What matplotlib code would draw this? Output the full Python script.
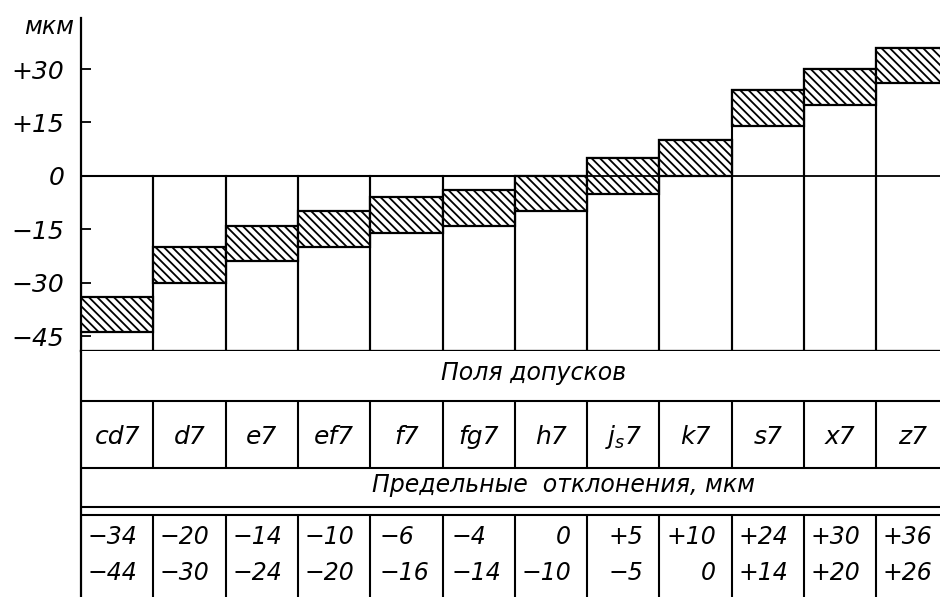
import numpy as np
import matplotlib
matplotlib.use("Agg")
import matplotlib.pyplot as plt

# tolerance fields and their limit deviations (um)
fields = ["cd7", "d7", "e7", "ef7", "f7", "fg7", "h7", "$j_s$7", "k7", "s7", "x7", "z7"]
upper = [-34, -20, -14, -10, -6, -4, 0, 5, 10, 24, 30, 36]
lower = [-44, -30, -24, -20, -16, -14, -10, -5, 0, 14, 20, 26]
ticks = [30, 15, 0, -15, -30, -45]
tick_labels = ["+30", "+15", "0", "\u221215", "\u221230", "\u221245"]
# left-aligned value cells (the rest are right-aligned)
left_cells = ["f7", "fg7"]

plt.rcParams["font.family"] = ["DejaVu Sans"]
plt.rcParams["hatch.linewidth"] = 1.3


def fmt(v):
    if v > 0:
        return f"+{v}"
    if v < 0:
        return f"\u2212{-v}"
    return "0"


W, H = 940, 597
col_px = 72.3        # width of one column in pixels
left_px = 81         # y axis position
base_px = 351        # bottom of the chart / top of the table
x_max = (W - left_px) / col_px
y_lo, y_hi = -49.2, 49.4

fig = plt.figure(figsize=(W / 100, H / 100), dpi=100)
ax = fig.add_axes([left_px / W, (H - base_px) / H, (W - left_px) / W, base_px / H])

x = np.arange(len(fields))
up = np.array(upper)
lo = np.array(lower)
col_top = np.maximum(up, 0)

# white columns from the bottom to the upper deviation (or zero line)
ax.bar(x, col_top - y_lo, bottom=y_lo, width=1, align="edge", fill=False,
       edgecolor="black", linewidth=1.5, zorder=2)
# hatched tolerance fields
ax.bar(x, up - lo, bottom=lo, width=1, align="edge", facecolor="white",
       edgecolor="black", hatch="\\\\\\\\", linewidth=1.6, zorder=3)
ax.axhline(0, color="black", linewidth=1.3, zorder=4)

ax.set_xlim(0, x_max)
ax.set_ylim(y_lo, y_hi)
ax.set_xticks([])
ax.set_yticks(ticks, tick_labels)
ax.tick_params(axis="y", direction="in", length=7, width=1.3, pad=12,
               labelsize=18)
for lab in ax.get_yticklabels():
    lab.set_fontstyle("italic")
for s in ["top", "right"]:
    ax.spines[s].set_visible(False)
ax.spines["left"].set_linewidth(1.6)
ax.spines["left"].set_bounds(y_lo, 44.3)
ax.spines["bottom"].set_linewidth(1.6)

fig.text(49 / W, 1 - 34 / H, "мкм", ha="center", va="baseline",
         fontsize=17, style="italic")

# table under the chart, y in pixels
axt = fig.add_axes([left_px / W, 0, (W - left_px) / W, (H - base_px) / H])
axt.set_xlim(0, x_max)
axt.set_ylim(H, base_px)
axt.set_xticks([])
axt.set_yticks([])
for s in ["top", "right", "bottom"]:
    axt.spines[s].set_visible(False)
axt.spines["left"].set_linewidth(1.6)

for yy in [401, 468, 507, 515]:
    axt.axhline(yy, color="black", linewidth=1.5)
edges = np.arange(1, len(fields) + 1)
axt.vlines(edges, 401, 468, color="black", linewidth=1.5)
axt.vlines(edges, 515, H, color="black", linewidth=1.5)

axt.text((534 - left_px) / col_px, 380, "Поля допусков", ha="center",
         va="baseline", fontsize=17, style="italic")
axt.text((563 - left_px) / col_px, 492, "Предельные  отклонения, мкм",
         ha="center", va="baseline", fontsize=17, style="italic")

for i, name in enumerate(fields):
    axt.text(i + 0.5, 444, name, ha="center", va="baseline", fontsize=18,
             style="italic")
    if name in left_cells:
        xp, ha = i + 0.13, "left"
    else:
        xp, ha = i + 1 - 0.22, "right"
    axt.text(xp, 544, fmt(upper[i]), ha=ha, va="baseline", fontsize=17,
             style="italic")
    axt.text(xp, 580, fmt(lower[i]), ha=ha, va="baseline", fontsize=17,
             style="italic")

fig.savefig("out.png", dpi=100)
